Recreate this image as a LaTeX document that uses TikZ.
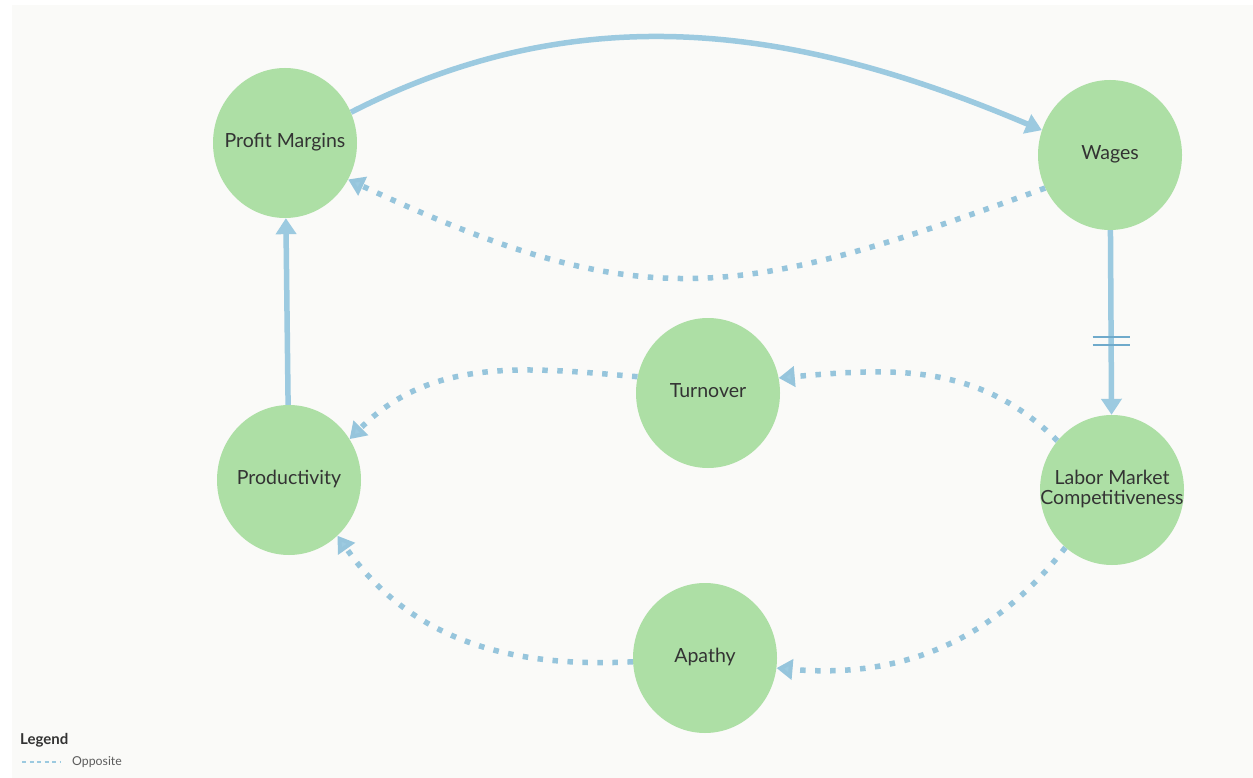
\documentclass[tikz,border=0pt]{standalone}
\usepackage{fontspec}
\setmainfont{Lato}
\usetikzlibrary{shapes.geometric,arrows.meta}
\definecolor{bgc}{HTML}{FAFAF8}
\definecolor{nodegreen}{HTML}{ADDFA5}
\definecolor{edgeblue}{HTML}{9CCAE0}
\definecolor{dotblue}{HTML}{96C5DC}
\definecolor{barblue}{HTML}{6FAACB}
\definecolor{txt}{HTML}{333333}
\newcommand{\nolbl}[1]{\makebox[0pt]{\begin{tabular}{@{}c@{}}#1\end{tabular}}}
\tikzset{
  var/.style={ellipse, fill=nodegreen, minimum width=144pt, minimum height=150pt, inner sep=0pt,
    text=txt, font=\fontsize{19.5}{21}\selectfont},
  pos link/.style={draw=edgeblue, line width=5.5pt, -{Triangle[width=20pt,length=16pt,fill=edgeblue]}},
  opp link/.style={draw=dotblue, line width=5.5pt, dash pattern=on 5.5pt off 9.5pt,
    -{Triangle[width=20pt,length=16pt,fill=edgeblue]}},
}
\begin{document}
\begin{tikzpicture}[x=1pt,y=-1pt]
\useasboundingbox (0,0) rectangle (1253,778);
\fill[white] (0,0) rectangle (1253,778);
\fill[bgc] (12,5) rectangle (1253,778);

\node[var] (pm)   at (285,143) {\nolbl{Profit Margins}};
\node[var] (w)    at (1110,155) {\nolbl{Wages}};
\node[var] (turn) at (708,393) {\nolbl{Turnover}};
\node[var] (prod) at (289,480) {\nolbl{Productivity}};
\node[var] (lmc)  at (1112,490) {\nolbl{Labor Market\\[-1pt]Competitiveness}};
\node[var] (ap)   at (705,658) {\nolbl{Apathy}};

% solid links
\draw[pos link] (pm.25) to[out=27,in=157,looseness=0.97] (w.160);
\draw[pos link] (prod) -- (pm);
\draw[pos link] (w) -- coordinate[pos=0.6] (delay) (lmc);
\draw[barblue, line width=2.8pt] ([xshift=-18.5pt,yshift=-4pt]delay) -- ([xshift=18.5pt,yshift=-4pt]delay);
\draw[barblue, line width=2.8pt] ([xshift=-18.5pt,yshift=4pt]delay) -- ([xshift=18.5pt,yshift=4pt]delay);

% opposite links
\draw[opp link] (w.207) to[out=200,in=-25,looseness=1.2] (pm.330);
\draw[opp link] (lmc.138) to[out=135,in=5] (turn.12);
\draw[opp link] (turn.167) to[out=175,in=45] (prod.34);
\draw[opp link] (lmc.231) to[out=232,in=-5] (ap.352);
\draw[opp link] (ap.183) to[out=183,in=-55] (prod.311);

% legend
\node[anchor=west, font=\bfseries\fontsize{15}{17}\selectfont, text=txt, inner sep=0pt] (legend) at (20,740) {Legend};
\coordinate (lgs) at (22,762);
\node[anchor=west, font=\fontsize{12.3}{14}\selectfont, text=txt!80, inner sep=0pt] (opp) at (72,762) {Opposite};
\draw[edgeblue, line width=1.3pt, dash pattern=on 4pt off 3.5pt] (lgs) -- (opp.west -| 60,0);
\end{tikzpicture}
\end{document}
